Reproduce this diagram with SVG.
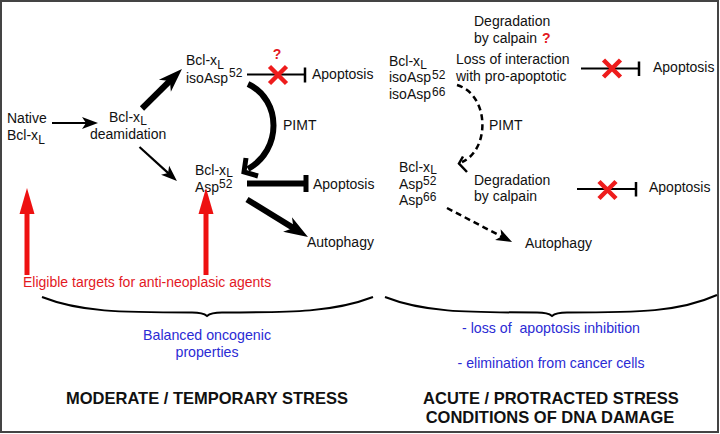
<svg xmlns="http://www.w3.org/2000/svg" width="720" height="434" viewBox="0 0 720 434">
<style>
text{font-family:"Liberation Sans",Arial,sans-serif;font-size:14px;fill:#111}
.sup{font-size:12px}
.red{fill:#e3191f}
.q{fill:#e3191f;font-weight:bold}
.blue{fill:#2b2bd4;text-anchor:middle;font-size:15px}
.title{font-weight:bold;font-size:16.5px;text-anchor:middle}
.thin{stroke:#000;stroke-width:2.2;fill:none}
.bold{stroke:#000;stroke-width:6;fill:none}
.dash{stroke:#000;stroke-width:2.5;fill:none;stroke-dasharray:6 4}
.bar{stroke:#000;stroke-width:2.5}
.x{stroke:#ee1c1c;stroke-width:4.5;stroke-linecap:butt}
.brace{stroke:#000;stroke-width:2;fill:none}
</style>
<defs>
<marker id="ah" markerUnits="userSpaceOnUse" markerWidth="16" markerHeight="12" refX="5" refY="6" orient="auto" overflow="visible">
<path d="M0,0 L16,6 L0,12 L4,6 z" fill="#000"/>
</marker>
<marker id="ahb" markerUnits="userSpaceOnUse" markerWidth="24" markerHeight="17" refX="9" refY="8.5" orient="auto" overflow="visible">
<path d="M0,0 L24,8.5 L0,17 L7,8.5 z" fill="#000"/>
</marker>
<marker id="ahr" markerUnits="userSpaceOnUse" markerWidth="15" markerHeight="26" refX="7.5" refY="24" orient="0" overflow="visible">
<path d="M7.5,0 L15,26 L0,26 z" fill="#ee1111"/>
</marker>
</defs>
<rect x="1" y="1" width="717" height="431" fill="#fff" stroke="#444" stroke-width="2"/>

<g id="native">
<text x="7" y="123">Native</text>
<text x="7" y="140">Bcl-x<tspan dy="3.5" class="sup">L</tspan></text>
</g>
<g id="deamidation">
<text x="109" y="121.5">Bcl-x<tspan dy="3" class="sup">L</tspan></text>
<text x="90" y="139">deamidation</text>
</g>
<g id="isoasp52">
<text x="186" y="65">Bcl-x<tspan dy="4" class="sup">L</tspan></text>
<text x="186" y="83">isoAsp<tspan x="229" y="76.5" class="sup">52</tspan></text>
</g>
<g id="asp52">
<text x="195" y="175">Bcl-x<tspan dy="1.5" class="sup">L</tspan></text>
<text x="195" y="192">Asp<tspan x="219" y="188" class="sup">52</tspan></text>
</g>
<g id="apoptosis1"><text x="312" y="79">Apoptosis</text></g>
<g id="apoptosis2"><text x="313" y="189">Apoptosis</text></g>
<g id="autophagy1"><text x="307" y="247">Autophagy</text></g>
<g id="pimt1"><text x="283" y="130">PIMT</text></g>
<g id="q1"><text x="277" y="59" class="q" text-anchor="middle">?</text></g>

<g id="degradation1">
<text x="474" y="26">Degradation</text>
<text x="474" y="43">by calpain</text>
<text x="542" y="43" class="q">?</text>
</g>
<g id="loss">
<text x="456" y="64">Loss of interaction</text>
<text x="456" y="81">with pro-apoptotic</text>
</g>
<g id="isoasp5266">
<text x="389" y="66">Bcl-x<tspan dy="2.5" class="sup">L</tspan></text>
<text x="389" y="82">isoAsp<tspan x="432" y="79" class="sup">52</tspan></text>
<text x="389" y="99">isoAsp<tspan x="432" y="95.5" class="sup">66</tspan></text>
</g>
<g id="asp5266">
<text x="399" y="172">Bcl-x<tspan dy="1.5" class="sup">L</tspan></text>
<text x="399" y="189">Asp<tspan x="423" y="185" class="sup">52</tspan></text>
<text x="399" y="205">Asp<tspan x="423" y="200.5" class="sup">66</tspan></text>
</g>
<g id="degradation2">
<text x="474" y="185">Degradation</text>
<text x="474" y="201">by calpain</text>
</g>
<g id="apoptosis3"><text x="653" y="72">Apoptosis</text></g>
<g id="apoptosis4"><text x="649" y="192">Apoptosis</text></g>
<g id="autophagy2"><text x="525" y="248">Autophagy</text></g>
<g id="pimt2"><text x="489" y="130">PIMT</text></g>

<g id="targets">
<text x="23" y="287" class="red">Eligible targets for anti-neoplasic agents</text>
</g>
<g id="moderate">
<path class="brace" d="M42,297 C80,312 120,312.5 192,312.5 Q203,312.5 207,316 Q211,312.5 222,312.5 C294,312.5 334,312 373,297"/>
<text x="207" y="340" class="blue" textLength="128" lengthAdjust="spacingAndGlyphs">Balanced oncogenic</text>
<text x="207" y="357" class="blue" textLength="63" lengthAdjust="spacingAndGlyphs">properties</text>
<text x="207" y="404" class="title">MODERATE / TEMPORARY STRESS</text>
</g>
<g id="acute">
<path class="brace" d="M385,297 C423,312 463,312.5 537,312.5 Q548,312.5 552,316 Q556,312.5 567,312.5 C639,312.5 679,312 717,295"/>
<text x="551" y="333" class="blue" style="white-space:pre" textLength="178" lengthAdjust="spacingAndGlyphs">- loss of  apoptosis inhibition</text>
<text x="551" y="368" class="blue" textLength="187" lengthAdjust="spacingAndGlyphs">- elimination from cancer cells</text>
<text x="551" y="404" class="title">ACUTE / PROTRACTED STRESS</text>
<text x="550" y="423" class="title">CONDITIONS OF DNA DAMAGE</text>
</g>

<g id="connectors">
<line class="thin" x1="52" y1="123" x2="87" y2="123" marker-end="url(#ah)"/>
<line class="bold" x1="142" y1="108.5" x2="171.3" y2="79.5" marker-end="url(#ahb)"/>
<line class="thin" x1="139.5" y1="147" x2="168.8" y2="173.6" marker-end="url(#ah)"/>
<line class="bold" x1="247" y1="199.5" x2="295.2" y2="229.1" marker-end="url(#ahb)"/>
<path class="bold" d="M248,84 C282,100 282,150 248,169"/>
<polyline points="246,158 244,172 258,176" fill="none" stroke="#000" stroke-width="5"/>
<line x1="247" y1="74.5" x2="305" y2="74.5" stroke="#000" stroke-width="2"/>
<line class="bar" x1="305" y1="67.5" x2="305" y2="82.5"/>
<line class="bold" x1="247" y1="183.5" x2="305" y2="183.5"/>
<line x1="306" y1="175" x2="306" y2="192" stroke="#000" stroke-width="5"/>
<line x1="27" y1="275" x2="27" y2="212" stroke="#ee1111" stroke-width="5" marker-end="url(#ahr)"/>
<line x1="206" y1="275" x2="206" y2="212" stroke="#ee1111" stroke-width="5" marker-end="url(#ahr)"/>
<path class="dash" d="M457,85 C490,95 490,150 462,162"/>
<polyline points="463,156.5 459,163.5 467,172" fill="none" stroke="#000" stroke-width="2.5"/>
<line class="dash" x1="447" y1="208" x2="502.3" y2="236.9" marker-end="url(#ah)"/>
<line x1="581" y1="68.5" x2="639" y2="68.5" stroke="#000" stroke-width="2"/>
<line class="bar" x1="639" y1="61.5" x2="639" y2="76"/>
<line x1="577" y1="189" x2="636" y2="189" stroke="#000" stroke-width="2"/>
<line class="bar" x1="636" y1="182" x2="636" y2="196.5"/>
<path class="x" d="M269.5,66.5 L286.5,83.5 M286.5,66.5 L269.5,83.5"/>
<path class="x" d="M603.5,60 L620.5,77 M620.5,60 L603.5,77"/>
<path class="x" d="M599,181.5 L616,198.5 M616,181.5 L599,198.5"/>
</g>
</svg>
